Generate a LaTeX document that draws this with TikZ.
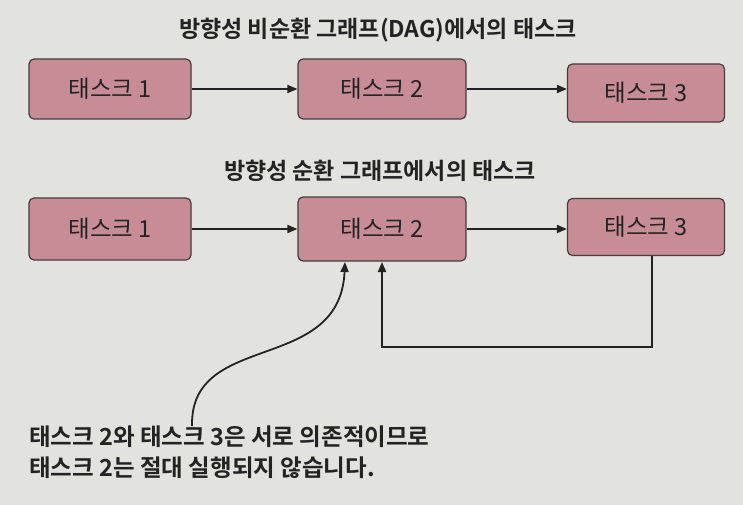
\documentclass[tikz,border=0pt]{standalone}
\usepackage{fontspec}
\setmainfont{Noto Sans CJK KR}
\newfontfamily\krbold{Noto Sans CJK KR Bold}
\usetikzlibrary{arrows.meta}
\definecolor{paper}{RGB}{226,226,222}
\definecolor{taskfill}{RGB}{200,140,150}
\definecolor{taskline}{RGB}{70,60,62}
\definecolor{ink}{RGB}{35,35,35}
\begin{document}
\begin{tikzpicture}[x=1pt,y=-1pt,
  task/.style={draw=taskline,line width=1.2pt,fill=taskfill,rounded corners=5pt,minimum height=60pt,font=\fontsize{23.5}{26}\selectfont,text=ink},
  ttl/.style={font=\krbold\fontsize{23}{26}\selectfont,text=ink},
  conn/.style={draw=ink,line width=1.8pt,-{Triangle[length=10pt,width=8pt]}}]
\fill[paper] (0,0) rectangle (743,505);
\useasboundingbox (0,0) rectangle (743,505);
\node[ttl] (t1) at (378,30) {방향성 비순환 그래프(DAG)에서의 태스크};
\node[task,minimum width=162pt] (a1) at (110,89) {태스크 1};
\node[task,minimum width=168pt] (a2) at (382,89) {태스크 2};
\node[task,minimum width=157pt,minimum height=58pt] (a3) at (646,93) {태스크 3};
\draw[conn] (a1.east) -- (a2.west);
\draw[conn] (a2.east) -- (a3.west |- a2.east);
\node[ttl] (t2) at (380,171) {방향성 순환 그래프에서의 태스크};
\node[task,minimum width=162pt,minimum height=62pt] (b1) at (110,229) {태스크 1};
\node[task,minimum width=168pt,minimum height=64pt] (b2) at (382,229) {태스크 2};
\node[task,minimum width=157pt,minimum height=57pt] (b3) at (646,227) {태스크 3};
\draw[conn] (b1.east) -- (b2.west);
\draw[conn] (b2.east) -- (b3.west |- b2.east);
\coordinate (c1) at (652,347);
\draw[conn] (b3.south -| c1) -- (c1) -- (c1 -| 382,0) -- (382,262);
\node[font=\krbold\fontsize{23.5}{31}\selectfont,text=ink,align=left,anchor=north west,inner sep=0pt] (note) at (29,426) {태스크 2와 태스크 3은 서로 의존적이므로\\태스크 2는 절대 실행되지 않습니다.};
\coordinate (n0) at (192,426);
\draw[conn] (n0) .. controls (190,330) and (340,375) .. (345,262);
\end{tikzpicture}
\end{document}
